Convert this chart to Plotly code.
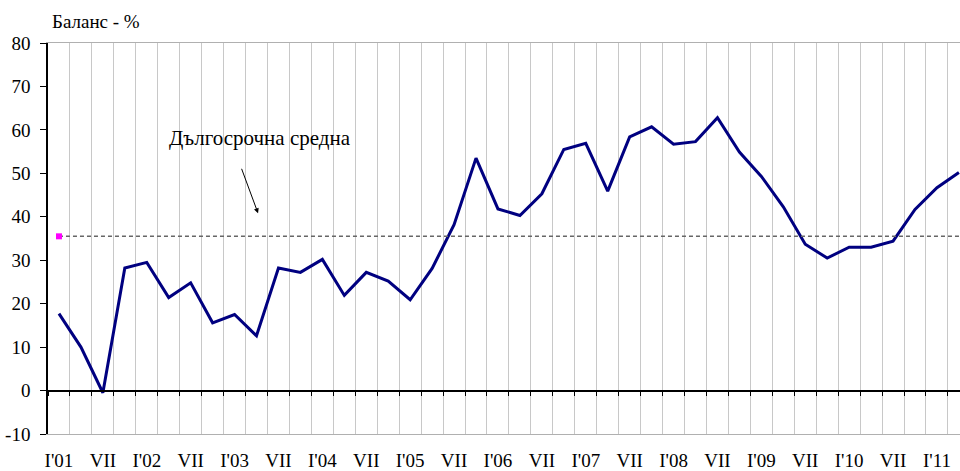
import plotly.graph_objects as go

# тримесечия от I'01 до IV'11
years = ["01", "02", "03", "04", "05", "06", "07", "08", "09", "10", "11"]
quarters = [f"{q}'{y}" for y in years for q in ["I", "IV", "VII", "X"]][:42]

# баланс - %
balance = [17.7, 10.0, -0.5, 28.2, 29.5, 21.4, 24.8, 15.6, 17.5, 12.6,
           28.2, 27.2, 30.2, 21.9, 27.2, 25.2, 20.9, 28.1, 38.2, 53.5,
           41.8, 40.3, 45.3, 55.5, 56.9, 45.9, 58.4, 60.7, 56.7, 57.3,
           62.8, 54.9, 49.3, 42.3, 33.7, 30.5, 33.0, 33.0, 34.4, 41.7,
           46.7, 50.2]

long_term_avg = 35.5

tick_labels = ["I'01", "VII", "I'02", "VII", "I'03", "VII", "I'04", "VII",
               "I'05", "VII", "I'06", "VII", "I'07", "VII", "I'08", "VII",
               "I'09", "VII", "I'10", "VII", "I'11"]
y_ticks = [-10, 0, 10, 20, 30, 40, 50, 60, 70, 80]

FONT = '"Liberation Serif", "Times New Roman", serif'

idx = list(range(len(balance)))
x_range = [-0.5, 41.05]

fig = go.Figure()

# дългосрочна средна
fig.add_trace(go.Scatter(
    x=[idx[0], x_range[1]], y=[long_term_avg, long_term_avg], mode="lines",
    line=dict(color="#666666", width=1.5, dash="4px,3px"),
    hoverinfo="skip", showlegend=False, xaxis="x2"))
fig.add_trace(go.Scatter(
    x=[idx[0]], y=[long_term_avg], mode="markers",
    marker=dict(symbol="square", color="#ff00ff", size=6),
    showlegend=False, xaxis="x2"))

fig.add_trace(go.Scatter(
    x=idx, y=balance, mode="lines", customdata=quarters,
    hovertemplate="%{customdata}: %{y}<extra></extra>",
    line=dict(color="#000080", width=3), showlegend=False))

fig.update_layout(
    width=960, height=471,
    margin=dict(l=48, r=0, t=43, b=37),
    paper_bgcolor="white", plot_bgcolor="white",
    font=dict(family=FONT, size=19, color="black"),
    xaxis=dict(range=x_range, tickmode="array",
               tickvals=[i * 2 for i in range(len(tick_labels))],
               ticktext=tick_labels, ticks="", showgrid=False,
               zeroline=False, showline=True, linecolor="#b0b0b0",
               linewidth=1, mirror=True, ticklabelstandoff=9,
               automargin=False),
    xaxis2=dict(range=x_range, overlaying="x", anchor="free",
                position=10 / 90, tickmode="array",
                tickvals=[i - 0.5 for i in range(len(balance) + 1)],
                showticklabels=False, ticks="outside", ticklen=5,
                tickcolor="black", showgrid=True, gridcolor="#c8c8c8",
                gridwidth=1, showline=True, linecolor="black",
                linewidth=1.5, zeroline=False, automargin=False),
    yaxis=dict(range=[-10, 80], tickmode="array", tickvals=y_ticks,
               ticktext=[str(v) for v in y_ticks],
               showgrid=False, zeroline=False, showline=True,
               linecolor="black", linewidth=1.5, ticks="outside",
               ticklen=6, tickcolor="black", ticklabelstandoff=6,
               automargin=False),
    annotations=[
        dict(text="Баланс - %", xref="paper", yref="paper",
             x=2 / 912, y=1.0, yshift=22, xanchor="left",
             yanchor="middle", showarrow=False, font=dict(size=19)),
        dict(text="Дългосрочна средна", x=4.92, y=58.1, xanchor="left",
             yanchor="middle", showarrow=False, font=dict(size=21)),
        dict(text="", x=9.07, y=40.8, ax=-17, ay=-46, showarrow=True,
             arrowhead=2, arrowsize=1, arrowwidth=1, arrowcolor="black"),
    ],
)

# страницата има поле от 8px по подразбиране - махаме го
fig.write_html("out.html", config={"displayModeBar": False},
               post_script="document.body.style.margin='0';")
